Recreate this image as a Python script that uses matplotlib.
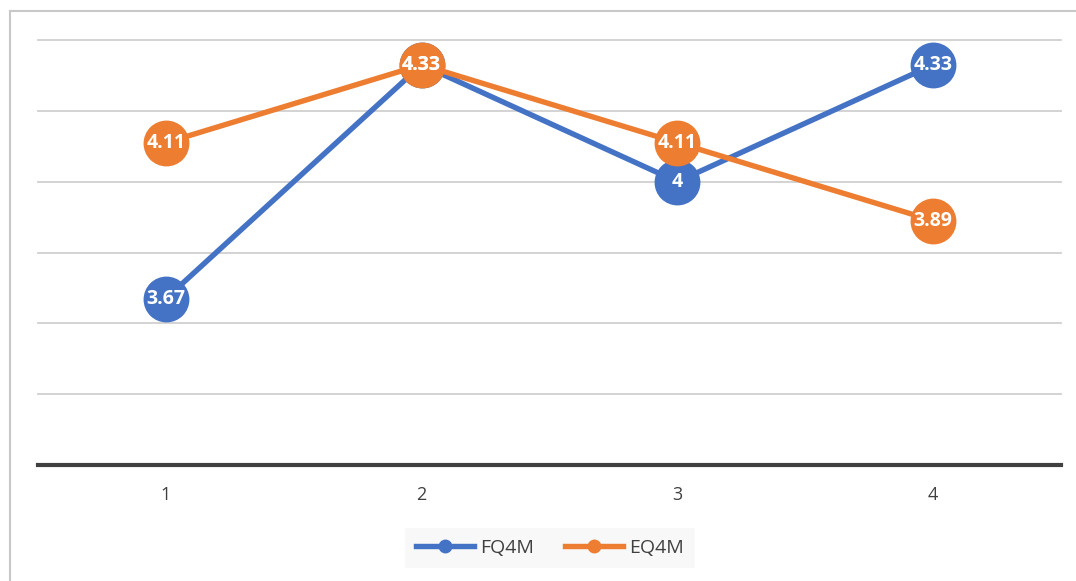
import matplotlib.pyplot as plt
from matplotlib.lines import Line2D

# Data
categories = [1, 2, 3, 4]
fq4m = [3.67, 4.33, 4.00, 4.33]
eq4m = [4.11, 4.33, 4.11, 3.89]
series_names = ['FQ4M', 'EQ4M']

BLUE = '#4472c4'
ORANGE = '#ed7d31'

plt.rcParams['font.family'] = ['Open Sans', 'DejaVu Sans']

fig = plt.figure(figsize=(10.76, 5.81), dpi=100)
ax = fig.add_axes([38 / 1076, 1 - 465 / 581, (1061 - 38) / 1076, (465 - 40) / 581])

# outer chart frame (left and top edges visible)
fig.add_artist(Line2D([9.5 / 1076, 9.5 / 1076], [0, 1 - 11 / 581],
                      transform=fig.transFigure, color='#c8c8c8', lw=1.5))
fig.add_artist(Line2D([9.5 / 1076, 1], [1 - 11 / 581, 1 - 11 / 581],
                      transform=fig.transFigure, color='#c8c8c8', lw=1.5))

# gridlines
for yv in [3.4, 3.6, 3.8, 4.0, 4.2, 4.4]:
    ax.axhline(yv, color='#d0d0d0', lw=1.3, zorder=0, clip_on=False)
ax.axhline(3.2, color='#404040', lw=3.0, zorder=1, clip_on=False)

for vals, color, name in [(fq4m, BLUE, series_names[0]), (eq4m, ORANGE, series_names[1])]:
    ax.plot(categories, vals, color=color, lw=3.9, marker='o', markersize=32,
            markeredgecolor=color, solid_capstyle='round', label=name, zorder=3)
    for x, v in zip(categories, vals):
        ax.text(x, v, f'{v:g}', ha='center', va='center', color='white',
                fontsize=14, fontweight='bold', zorder=5)

ax.set_xlim(0.5, 4.5)
ax.set_ylim(3.2, 4.4)
ax.set_yticks([])
ax.set_xticks(categories)
ax.set_xticklabels([str(c) for c in categories], color='#404040', fontsize=13)
ax.tick_params(axis='x', length=0, pad=15)
for s in ax.spines.values():
    s.set_visible(False)

handles = [Line2D([], [], color=BLUE, lw=3.9, marker='o', markersize=9),
           Line2D([], [], color=ORANGE, lw=3.9, marker='o', markersize=9)]
leg = fig.legend(handles, series_names, loc='center', bbox_to_anchor=(550 / 1076, 1 - 548 / 581),
                 ncol=2, frameon=True, fontsize=14, handlelength=3.0, handletextpad=0.3,
                 columnspacing=1.6, borderpad=0.55, borderaxespad=0, fancybox=False)
leg.get_frame().set_facecolor('#f7f7f7')
leg.get_frame().set_edgecolor('none')
for t in leg.get_texts():
    t.set_color('#404040')

fig.savefig('out.png', dpi=100)
